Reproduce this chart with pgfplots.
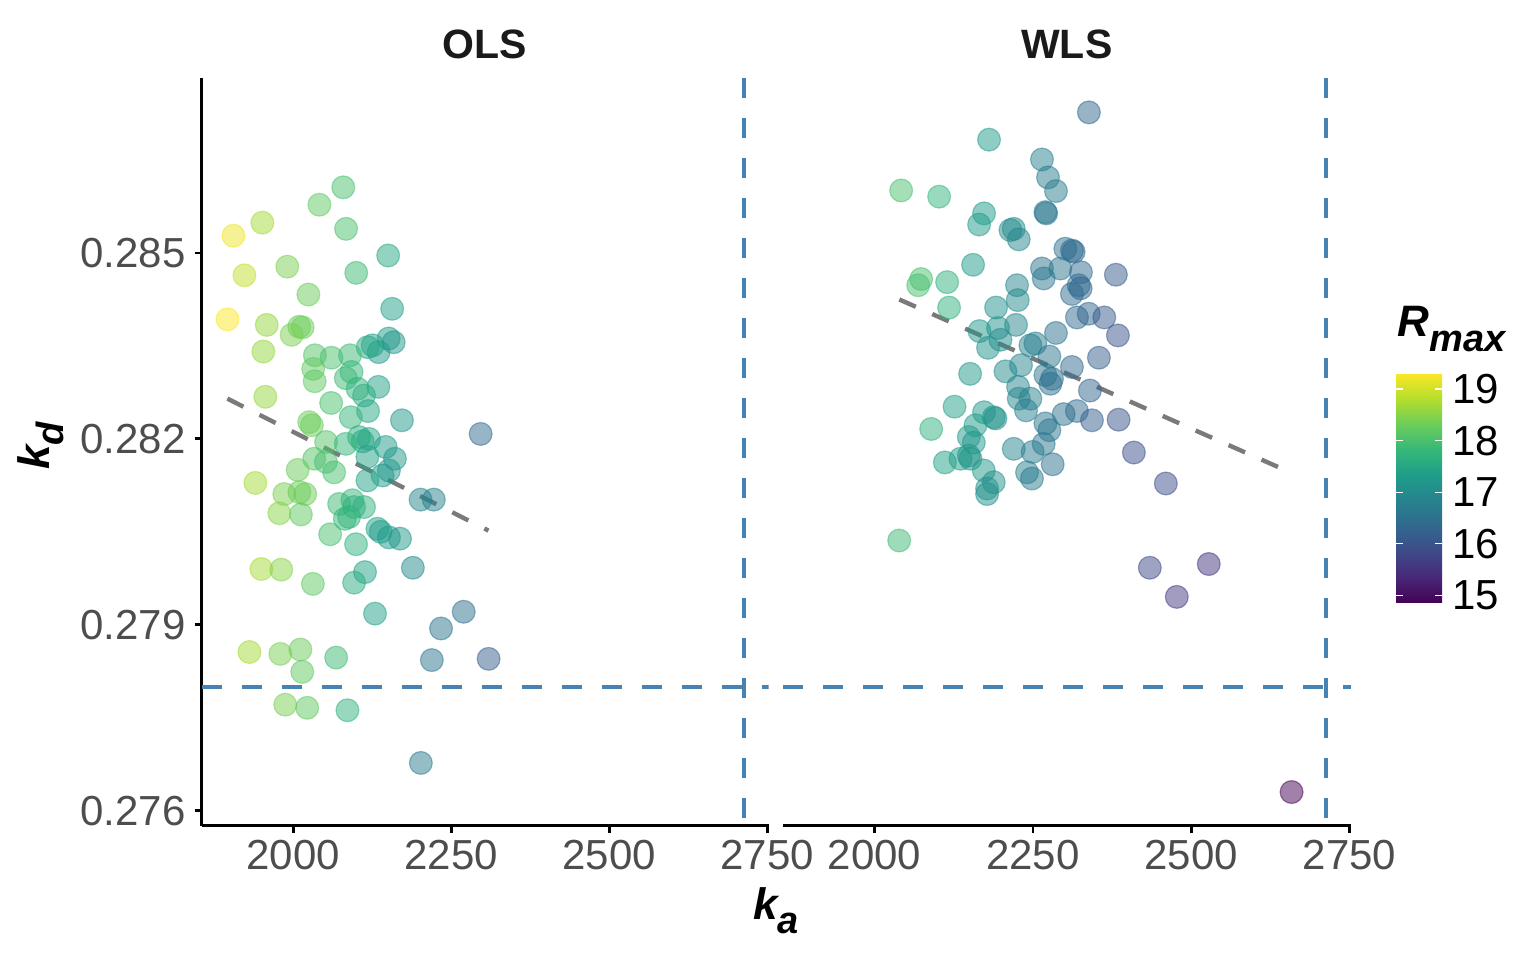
\documentclass[border=0pt]{standalone}
\usepackage{fontspec}
\setmainfont{Liberation Sans}
\usepackage{pgfplots}
\usepackage{pgfplotstable}
\pgfplotsset{compat=1.18}

\definecolor{steel}{HTML}{4682B4}
\definecolor{tickgrey}{HTML}{4D4D4D}
\definecolor{fitgrey}{HTML}{7A7A7A}
\definecolor{stripgrey}{HTML}{1A1A1A}

\pgfplotsset{
  colormap={vir}{rgb255=(68,1,84) rgb255=(72,40,120) rgb255=(62,74,137) rgb255=(49,104,142)
    rgb255=(38,130,142) rgb255=(31,158,137) rgb255=(53,183,121) rgb255=(109,205,89)
    rgb255=(180,222,44) rgb255=(253,231,37)},
  panel/.style={
    scale only axis, height=373.6pt,
    xmin=1855, xmax=2752, ymin=0.27576, ymax=0.28782,
    xtick={2000,2250,2500,2750},
    scaled ticks=false,
    tick align=outside, major tick length=3.5pt,
    tick style={black, line width=1.4pt},
    axis line style={line width=1.4pt},
    ticklabel style={font=\fontsize{21}{25}\selectfont, text=tickgrey},
    xticklabel style={inner ysep=3.5pt},
    yticklabel style={inner xsep=4.2pt},
    /pgf/number format/assume math mode=true,
    /pgf/number format/1000 sep={},
    colormap name=vir, point meta min=14.85, point meta max=19.31,
  },
  pts/.style={scatter, only marks, mark=*, mark size=5.7pt, point meta=explicit,
    scatter/use mapped color={draw=mapped color, fill=mapped color},
    mark options={fill opacity=0.5, draw opacity=0.5, line width=0.6pt}},
  fit/.style={fitgrey, line width=2.2pt, dash pattern=on 9pt off 9pt, no marks},
  ref/.style={steel, line width=2.2pt, dash pattern=on 10pt off 10pt, no marks},
}

% OLS estimates: ka, kd, Rmax
\pgfplotstableread{
x y m
2079.3 0.28606 18.0
2041.5 0.28578 18.2
1951.3 0.28549 18.7
1905.5 0.28528 19.2
2083.7 0.28539 18.0
2150.3 0.28496 17.5
1990.7 0.28478 18.4
1922.9 0.28464 18.9
2099.8 0.28468 17.9
2024.1 0.28433 18.3
2156.6 0.28410 17.4
1896.1 0.28393 19.3
1958.2 0.28384 18.6
2009.6 0.28381 18.3
2015.0 0.28380 18.3
1997.6 0.28368 18.4
1952.8 0.28341 18.6
2151.1 0.28362 17.3
2159.0 0.28356 17.2
2125.8 0.28351 17.4
2135.3 0.28340 17.3
2117.9 0.28348 17.5
2034.4 0.28335 18.1
2060.7 0.28331 18.0
2090.0 0.28335 17.9
2031.7 0.28313 18.2
2092.3 0.28308 17.8
2083.3 0.28298 17.9
2034.0 0.28293 18.2
2134.8 0.28284 17.4
2112.1 0.28270 17.6
2102.0 0.28281 17.7
1956.0 0.28268 18.6
2060.1 0.28258 18.0
2118.4 0.28245 17.5
2091.2 0.28235 17.8
2172.1 0.28230 17.2
2296.6 0.28208 16.4
2025.4 0.28227 18.3
2029.6 0.28222 18.3
2052.2 0.28195 18.1
2104.2 0.28203 17.6
2120.0 0.28200 17.5
2110.0 0.28196 17.5
2083.3 0.28192 17.8
2146.3 0.28187 17.3
2161.0 0.28168 17.2
2033.3 0.28168 18.1
2051.8 0.28163 18.0
2064.8 0.28146 18.0
2007.1 0.28150 18.3
1940.2 0.28129 18.7
2117.5 0.28171 17.4
2151.5 0.28149 17.2
2141.5 0.28141 17.2
2117.5 0.28133 17.4
2201.5 0.28102 16.9
2222.5 0.28102 16.8
1986.0 0.28111 18.4
2009.9 0.28114 18.3
2019.1 0.28111 18.3
1978.1 0.28080 18.5
2012.3 0.28078 18.2
2072.7 0.28095 17.9
2093.8 0.28101 17.8
2096.4 0.28090 17.7
2112.1 0.28090 17.7
2088.5 0.28074 17.7
2081.7 0.28071 17.8
2058.5 0.28046 18.0
2099.5 0.28030 17.7
2133.3 0.28055 17.4
2138.5 0.28050 17.3
2151.5 0.28041 17.3
2169.0 0.28039 17.2
1949.7 0.27990 18.7
1981.2 0.27989 18.5
2189.4 0.27992 17.0
2031.2 0.27966 18.2
2113.7 0.27985 17.4
2096.4 0.27968 17.6
2129.5 0.27918 17.4
2269.8 0.27921 16.5
2233.9 0.27894 16.6
1930.8 0.27856 18.7
1979.7 0.27853 18.4
2011.5 0.27860 18.3
2014.4 0.27824 18.2
2068.0 0.27847 17.9
2219.4 0.27843 16.6
2309.2 0.27845 16.2
1987.5 0.27771 18.4
2022.2 0.27766 18.2
2085.9 0.27762 17.7
2202.0 0.27677 16.7
}\ols

% WLS estimates
\pgfplotstableread{
x y m
2338.4 0.28727 16.3
2180.7 0.28683 17.3
2264.3 0.28651 16.8
2273.8 0.28622 16.7
2286.4 0.28600 16.7
2041.9 0.28601 18.0
2101.9 0.28591 17.8
2269.7 0.28566 16.7
2270.9 0.28564 16.6
2172.8 0.28564 17.3
2165.0 0.28546 17.3
2214.5 0.28537 17.0
2219.7 0.28539 17.0
2227.6 0.28522 16.9
2155.5 0.28481 17.3
2073.5 0.28458 18.0
2068.8 0.28448 18.0
2114.5 0.28453 17.7
2301.2 0.28507 16.5
2311.6 0.28504 16.4
2314.3 0.28502 16.4
2293.3 0.28475 16.6
2264.3 0.28475 16.6
2267.0 0.28459 16.6
2325.8 0.28469 16.4
2381.0 0.28465 16.1
2224.9 0.28448 16.9
2322.2 0.28448 16.4
2325.3 0.28443 16.3
2311.6 0.28434 16.4
2117.6 0.28412 17.7
2191.8 0.28412 17.1
2226.0 0.28424 17.0
2319.5 0.28396 16.4
2338.0 0.28402 16.3
2362.7 0.28396 16.1
2384.2 0.28367 16.0
2223.3 0.28384 16.9
2165.6 0.28374 17.2
2194.9 0.28379 17.1
2198.7 0.28360 17.0
2179.1 0.28347 17.1
2286.4 0.28371 16.5
2253.9 0.28354 16.7
2246.0 0.28351 16.8
2276.0 0.28333 16.6
2354.2 0.28331 16.2
2150.8 0.28305 17.2
2206.6 0.28309 17.0
2231.2 0.28319 16.9
2311.6 0.28316 16.4
2269.7 0.28303 16.6
2280.1 0.28297 16.5
2277.6 0.28289 16.5
2340.0 0.28278 16.3
2226.5 0.28284 16.9
2227.6 0.28265 16.9
2246.0 0.28265 16.8
2239.1 0.28246 16.8
2126.2 0.28252 17.4
2172.8 0.28243 17.2
2188.1 0.28235 17.2
2190.8 0.28233 17.1
2089.3 0.28216 17.7
2159.3 0.28222 17.3
2298.5 0.28240 16.5
2319.5 0.28245 16.4
2343.2 0.28230 16.2
2385.3 0.28231 16.0
2269.7 0.28225 16.6
2276.0 0.28214 16.6
2148.7 0.28203 17.3
2156.6 0.28194 17.2
2267.0 0.28192 16.6
2219.7 0.28184 16.9
2249.6 0.28179 16.7
2281.2 0.28159 16.5
2110.9 0.28162 17.4
2135.6 0.28168 17.3
2148.7 0.28173 17.2
2151.4 0.28168 17.2
2172.4 0.28149 17.2
2240.7 0.28146 16.8
2248.5 0.28136 16.7
2188.1 0.28130 17.1
2177.6 0.28120 17.1
2177.6 0.28111 17.1
2038.8 0.28036 17.9
2409.4 0.28178 15.9
2459.9 0.28128 15.9
2434.6 0.27992 15.8
2527.7 0.27998 15.5
2477.2 0.27945 15.6
2658.5 0.27630 14.85
}\wls

\begin{document}
\begin{tikzpicture}
\useasboundingbox (0,0) rectangle (768pt,480pt);

\begin{axis}[panel, at={(100.75pt,67.25pt)}, anchor=south west, width=283.5pt,
  axis x line*=bottom, axis y line*=left,
  ytick={0.276,0.279,0.282,0.285},
  yticklabel style={/pgf/number format/fixed, /pgf/number format/precision=3,
    /pgf/number format/fixed zerofill}]
  \addplot[ref] coordinates {(1855,0.278) (2752,0.278)};
  \addplot[ref] coordinates {(2713,0.28782) (2713,0.27576)};
  \addplot[fit] coordinates {(1896,0.28265) (2309,0.28052)};
  \addplot[pts] table[x=x, y=y, meta=m] {\ols};
\end{axis}

\begin{axis}[panel, at={(391.4pt,67.25pt)}, anchor=south west, width=284pt,
  axis x line*=bottom, axis y line=none, ytick=\empty,
  colorbar,
  colorbar/width=23pt,
  colorbar style={
    at={(parent axis.south east)}, anchor=north west,
    xshift=14.1pt, yshift=226.25pt,
    scale only axis, width=23pt, height=115pt,
    ytick={15,16,17,18,19},
    tick align=inside, major tick length=3.5pt,
    ytick pos=both, yticklabel pos=right,
    tick style={white, line width=0.6pt},
    axis line style={draw=none},
    /pgf/number format/assume math mode=true,
    yticklabel style={font=\fontsize{21}{25}\selectfont, text=black, inner xsep=5pt},
  }]
  \addplot[ref] coordinates {(1855,0.278) (2752,0.278)};
  \addplot[ref] coordinates {(2713,0.28782) (2713,0.27576)};
  \addplot[fit] coordinates {(2039,0.28425) (2658.5,0.28145)};
  \addplot[pts] table[x=x, y=y, meta=m] {\wls};
\end{axis}

\node[font=\fontsize{20.5}{24}\selectfont\bfseries, text=stripgrey] at (242.5pt,458pt) {OLS};
\node[font=\fontsize{20.5}{24}\selectfont\bfseries, text=stripgrey] at (533.4pt,458pt) {WLS};

\node[font=\fontsize{22}{26}\selectfont\bfseries\itshape] at (388pt,24.5pt)
  {k\raisebox{-7pt}{\fontsize{19}{22}\selectfont a}};
\node[font=\fontsize{22}{26}\selectfont\bfseries\itshape, rotate=90] at (20.5pt,257pt)
  {k\raisebox{-7pt}{\fontsize{19}{22}\selectfont d}};
\node[font=\fontsize{22}{26}\selectfont\bfseries\itshape, anchor=base west] at (695.3pt,311.7pt)
  {R\raisebox{-7.5pt}{\fontsize{19}{22}\selectfont max}};
\end{tikzpicture}
\end{document}
